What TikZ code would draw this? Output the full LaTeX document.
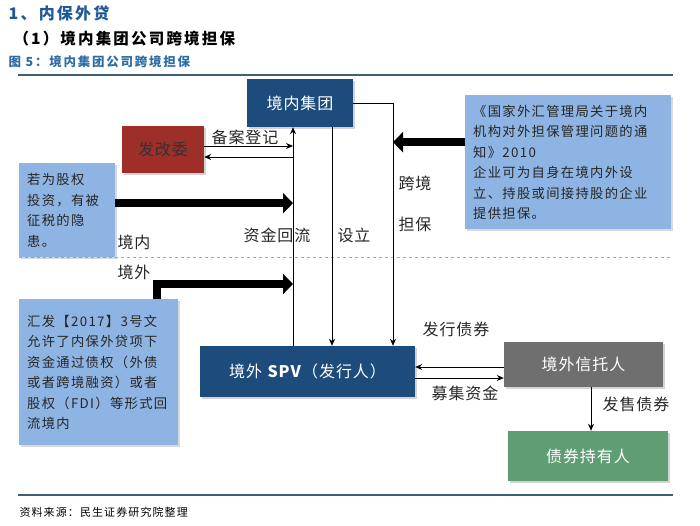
\documentclass[tikz,border=0pt]{standalone}
\usepackage{fontspec}
\setmainfont{Noto Sans CJK SC}
\newfontfamily\notefont{Noto Sans CJK SC}[LetterSpace=10]
\newfontfamily\widefont{Noto Sans CJK SC}[LetterSpace=14]
\newfontfamily\labelfont{Noto Sans CJK SC}[LetterSpace=6]
\usepackage{tikz}
\usetikzlibrary{arrows,arrows.meta}
\usetikzlibrary{positioning}
\usetikzlibrary{calc}
\usetikzlibrary{shadows}
\definecolor{titleblue}{HTML}{1F5A96}
\definecolor{figblue}{HTML}{2E6DA4}
\definecolor{rulegray}{HTML}{3F5F78}
\definecolor{boxblue}{HTML}{1D4C7C}
\definecolor{boxred}{HTML}{9E2E28}
\definecolor{notefill}{HTML}{8EB4E3}
\definecolor{trustgray}{HTML}{6F6F6F}
\definecolor{holdgreen}{HTML}{5F9E74}
\definecolor{dashgray}{HTML}{9AB0C0}
\tikzset{
    mainbox/.style={draw=none, text=white, inner sep=0pt, align=center,
        font=\labelfont\fontsize{16}{18}\selectfont,
        drop shadow={opacity=0.35, shadow xshift=2pt, shadow yshift=-2pt}},
    notebox/.style={fill=notefill, draw=none, inner sep=8pt, align=left, anchor=north west,
        text=black!85, font=\notefont\fontsize{13.3}{20.5}\selectfont,
        drop shadow={opacity=0.3, shadow xshift=2pt, shadow yshift=-2pt}},
    thinarrow/.style={draw=black, line width=0.9pt, -{Stealth[length=7pt,width=6pt]}},
    fatarrow/.style={draw=black, line width=8pt, -{Triangle[length=10pt,width=20pt]}},
    flowlabel/.style={font=\labelfont\fontsize{16}{18}\selectfont, text=black!85},
}
\begin{document}
\begin{tikzpicture}[x=1pt, y=-1pt]
    \useasboundingbox (0,0) rectangle (700,525);
    % headings
    \node[anchor=west, text=titleblue, font=\widefont\bfseries\fontsize{16}{18}\selectfont] (head) at (5,13) {1、内保外贷};
    \node[anchor=west, font=\widefont\bfseries\fontsize{15.5}{18}\selectfont] (subhead) at (10,39) {（1）境内集团公司跨境担保};
    \node[anchor=west, text=figblue, font=\widefont\bfseries\fontsize{12.5}{14}\selectfont] (fig) at (5,62) {图 5：境内集团公司跨境担保};
    \draw[rulegray, line width=2pt] (18,75) -- (673,75);
    \draw[rulegray, line width=1.5pt] (18,495) -- (673,495);
    \node[anchor=west, font=\notefont\fontsize{11}{13}\selectfont] (src) at (16,512) {资料来源：民生证券研究院整理};
    \draw[dashgray, line width=1pt, dashed] (19,257) -- (673,257);
		% boxes
    \node[mainbox, fill=boxblue, minimum width=106pt, minimum height=48pt] (jn) at (300,103) {境内集团};
    \node[mainbox, fill=boxred, text=black!80, minimum width=82pt, minimum height=47pt] (fgw) at (163,149.5) {发改委};
    \node[mainbox, fill=boxblue, minimum width=215pt, minimum height=51pt] (spv) at (307.5,371.5) {境外 \textbf{SPV}（发行人）};
    \node[mainbox, fill=trustgray, minimum width=159pt, minimum height=45pt] (trust) at (583.5,364.5) {境外信托人};
    \node[mainbox, fill=holdgreen, minimum width=160pt, minimum height=50pt] (holder) at (588,456) {债券持有人};
    \node[notebox, minimum width=94pt, minimum height=94pt, text width=80pt] (noteA) at (19,163) {若为股权\\投资，有被\\征税的隐\\患。};
    \node[notebox, minimum width=202pt, minimum height=134pt, text width=190pt] (noteB) at (465,95) {《国家外汇管理局关于境内\\机构对外担保管理问题的通\\知》2010\\企业可为自身在境内外设\\立、持股或间接持股的企业\\提供担保。};
    \node[notebox, minimum width=155pt, minimum height=146pt, text width=143pt] (noteC) at (19,299) {汇发【2017】3号文\\允许了内保外贷项下\\资金通过债权（外债\\或者跨境融资）或者\\股权（FDI）等形式回\\流境内};
		% columns
    \coordinate (flowx) at (293,0);
    \coordinate (setx) at (332,0);
    \coordinate (guarx) at (393,0);
    \coordinate (outy) at (0,284);
    \draw[thinarrow] (spv.north -| flowx) -- (jn.south -| flowx);
    \draw[thinarrow] (jn.south -| setx) -- (spv.north -| setx);
    \draw[thinarrow] (jn.east) -- (jn.east -| guarx) -- (spv.north -| guarx);
    \draw[thinarrow] ([yshift=3.5pt]fgw.east) -- ([yshift=3.5pt]fgw.east -| flowx);
    \draw[thinarrow] ([yshift=-7.5pt]fgw.east -| flowx) -- ([yshift=-7.5pt]fgw.east);
    \draw[fatarrow] ([yshift=7pt]noteA.east) -- ([yshift=7pt]noteA.east -| flowx);
    \draw[fatarrow] ([xshift=58pt]noteC.north) |- (outy -| flowx);
    \draw[fatarrow] ([yshift=20pt]noteB.west) -- ([yshift=20pt]noteB.west -| guarx);
    \draw[thinarrow] ([yshift=-2.5pt]trust.west) -- ([yshift=-2.5pt]trust.west -| spv.east);
    \draw[thinarrow] ([yshift=-6.5pt]spv.east) -- ([yshift=-6.5pt]spv.east -| trust.west);
    \draw[thinarrow] ([xshift=7.5pt]trust.south) -- ([xshift=7.5pt]trust.south |- holder.north);
		% labels
    \node[flowlabel] (lreg) at (245,137) {备案登记};
    \node[flowlabel] (lback) at (277,235) {资金回流};
    \node[flowlabel] (lset) at (354,235) {设立};
    \node[flowlabel] (lcross) at (415,183) {跨境};
    \node[flowlabel] (lguar) at (415,224) {担保};
    \node[flowlabel] (lin) at (134,242) {境内};
    \node[flowlabel] (lout) at (134,272) {境外};
    \node[flowlabel] (lissue) at (456,329) {发行债券};
    \node[flowlabel] (lraise) at (465,393) {募集资金};
    \node[flowlabel] (lsell) at (636,404) {发售债券};
\end{tikzpicture}
\end{document}
